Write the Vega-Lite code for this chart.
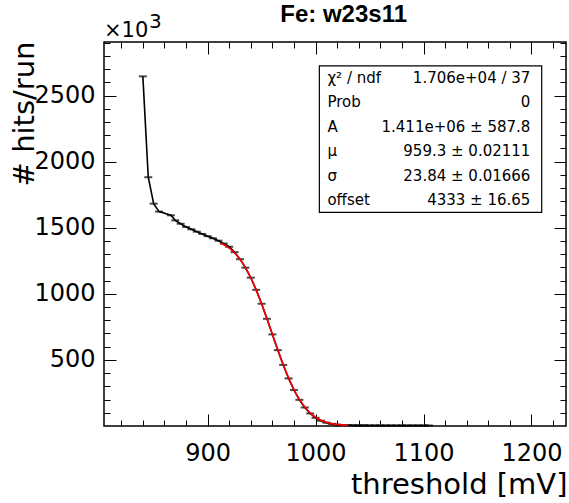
{
  "$schema": "https://vega.github.io/schema/vega-lite/v6.json",
  "width": 462,
  "height": 384,
  "autosize": {"type": "none"},
  "padding": {"left": 104, "top": 42, "right": 3, "bottom": 77},
  "background": "white",
  "config": {"view": {"stroke": "black", "strokeWidth": 1.5}, "font": "DejaVu Sans"},
  "resolve": {"axis": {"x": "independent", "y": "independent"}},
  "layer": [
    {
      "data": {"name": "measured", "values": [
        {"threshold": 840, "hits": 2645}, {"threshold": 845, "hits": 1882}, {"threshold": 850, "hits": 1682},
        {"threshold": 855, "hits": 1622}, {"threshold": 866, "hits": 1594}, {"threshold": 870, "hits": 1556},
        {"threshold": 875, "hits": 1530}, {"threshold": 880, "hits": 1506}, {"threshold": 885, "hits": 1488},
        {"threshold": 890, "hits": 1470}, {"threshold": 895, "hits": 1453}, {"threshold": 900, "hits": 1436},
        {"threshold": 905, "hits": 1420}, {"threshold": 910, "hits": 1402}, {"threshold": 915, "hits": 1380},
        {"threshold": 920, "hits": 1356}, {"threshold": 925, "hits": 1315}, {"threshold": 930, "hits": 1262},
        {"threshold": 935, "hits": 1198}, {"threshold": 940, "hits": 1122}, {"threshold": 945, "hits": 1030},
        {"threshold": 950, "hits": 925}, {"threshold": 955, "hits": 811}, {"threshold": 960, "hits": 693},
        {"threshold": 965, "hits": 574}, {"threshold": 970, "hits": 462}, {"threshold": 975, "hits": 360},
        {"threshold": 980, "hits": 272}, {"threshold": 985, "hits": 198}, {"threshold": 990, "hits": 140},
        {"threshold": 995, "hits": 95}, {"threshold": 1000, "hits": 62}, {"threshold": 1005, "hits": 40},
        {"threshold": 1010, "hits": 25}, {"threshold": 1015, "hits": 16}, {"threshold": 1020, "hits": 10},
        {"threshold": 1025, "hits": 7}, {"threshold": 1030, "hits": 5.5}, {"threshold": 1035, "hits": 5},
        {"threshold": 1040, "hits": 4.6}, {"threshold": 1045, "hits": 4.4}, {"threshold": 1050, "hits": 4.3},
        {"threshold": 1055, "hits": 4.2}, {"threshold": 1060, "hits": 4.2}, {"threshold": 1065, "hits": 4.1},
        {"threshold": 1070, "hits": 4.1}, {"threshold": 1075, "hits": 4}, {"threshold": 1080, "hits": 4},
        {"threshold": 1085, "hits": 4}, {"threshold": 1090, "hits": 4}, {"threshold": 1095, "hits": 4},
        {"threshold": 1100, "hits": 4}, {"threshold": 1105, "hits": 4}
      ]},
      "resolve": {"axis": {"x": "independent", "y": "independent"}},
      "layer": [
        {
          "mark": {"type": "line", "color": "black", "strokeWidth": 1.6},
          "encoding": {
            "x": {"field": "threshold", "type": "quantitative", "scale": {"domain": [804, 1232], "nice": false, "zero": false},
              "axis": {"orient": "bottom", "values": [900, 1000, 1100, 1200], "format": "d", "ticks": false, "domain": false, "grid": false,
                "labelFont": "DejaVu Sans", "labelFontSize": 24, "labelColor": "black", "labelPadding": 34, "labelBaseline": "alphabetic",
                "labelFlush": false, "labelOverlap": false,
                "title": "threshold [mV]", "titleFont": "DejaVu Sans", "titleFontSize": 29, "titleFontWeight": "normal", "titleColor": "black",
                "titleAnchor": "end", "titleAlign": "right", "titleBaseline": "alphabetic", "titleX": 463, "titleY": 67}},
            "y": {"field": "hits", "type": "quantitative", "scale": {"domain": [0, 2905], "nice": false, "zero": false},
              "axis": {"orient": "left", "values": [500, 1000, 1500, 2000, 2500], "format": "d", "ticks": false, "domain": false, "grid": false,
                "labelFont": "DejaVu Sans", "labelFontSize": 24, "labelColor": "black", "labelPadding": 9, "labelBaseline": "middle",
                "labelFlush": false, "labelOverlap": false,
                "title": "# hits/run", "titleFont": "DejaVu Sans", "titleFontSize": 29, "titleFontWeight": "normal", "titleColor": "black",
                "titleAngle": -90, "titleAnchor": "end", "titleAlign": "right", "titleBaseline": "alphabetic", "titleX": -71, "titleY": -1}}
          }
        },
        {
          "mark": {"type": "tick", "orient": "horizontal", "size": 8, "thickness": 2, "color": "black"},
          "encoding": {
            "x": {"field": "threshold", "type": "quantitative",
              "axis": {"orient": "bottom", "values": [820, 840, 860, 880, 900, 920, 940, 960, 980, 1000, 1020, 1040, 1060, 1080, 1100, 1120, 1140, 1160, 1180, 1200, 1220],
                "offset": -6, "tickSize": 6, "tickColor": "black", "tickWidth": 1, "labels": false, "domain": false, "grid": false, "title": null}},
            "y": {"field": "hits", "type": "quantitative",
              "axis": {"orient": "left", "values": [100, 200, 300, 400, 500, 600, 700, 800, 900, 1000, 1100, 1200, 1300, 1400, 1500, 1600, 1700, 1800, 1900, 2000, 2100, 2200, 2300, 2400, 2500, 2600, 2700, 2800, 2900],
                "offset": -6, "tickSize": 6, "tickColor": "black", "tickWidth": 1, "labels": false, "domain": false, "grid": false, "title": null}}
          }
        }
      ]
    },
    {
      "data": {"values": [
        {"threshold": 912, "hits": 1382}, {"threshold": 915, "hits": 1371}, {"threshold": 920, "hits": 1345},
        {"threshold": 925, "hits": 1309}, {"threshold": 930, "hits": 1261}, {"threshold": 935, "hits": 1198},
        {"threshold": 940, "hits": 1120}, {"threshold": 945, "hits": 1028}, {"threshold": 950, "hits": 924},
        {"threshold": 955, "hits": 811}, {"threshold": 960, "hits": 693}, {"threshold": 965, "hits": 576},
        {"threshold": 970, "hits": 465}, {"threshold": 975, "hits": 364}, {"threshold": 980, "hits": 276},
        {"threshold": 985, "hits": 203}, {"threshold": 990, "hits": 144}, {"threshold": 995, "hits": 99},
        {"threshold": 1000, "hits": 66}, {"threshold": 1005, "hits": 43}, {"threshold": 1010, "hits": 28},
        {"threshold": 1015, "hits": 18}, {"threshold": 1020, "hits": 12}, {"threshold": 1025, "hits": 8.4},
        {"threshold": 1030, "hits": 6.4}
      ]},
      "mark": {"type": "line", "color": "#ff0000", "strokeWidth": 1.6, "interpolate": "monotone"},
      "encoding": {
        "x": {"field": "threshold", "type": "quantitative",
          "axis": {"orient": "bottom", "values": [900, 1000, 1100, 1200], "offset": -12, "tickSize": 12, "tickColor": "black", "tickWidth": 1,
            "labels": false, "domain": false, "grid": false, "title": null}},
        "y": {"field": "hits", "type": "quantitative",
          "axis": {"orient": "left", "values": [500, 1000, 1500, 2000, 2500], "offset": -12, "tickSize": 12, "tickColor": "black", "tickWidth": 1,
            "labels": false, "domain": false, "grid": false, "title": null}}
      }
    },
    {
      "data": {"values": [{"x1": 1003.5, "x2": 1209.5, "y1": 1616, "y2": 2725}]},
      "mark": {"type": "rect", "fill": "white", "stroke": "black", "strokeWidth": 1.2},
      "encoding": {
        "x": {"field": "x1", "type": "quantitative",
          "axis": {"orient": "top", "values": [900, 1000, 1100, 1200], "offset": -12, "tickSize": 12, "tickColor": "black", "tickWidth": 1,
            "labels": false, "domain": false, "grid": false, "title": null}},
        "x2": {"field": "x2"},
        "y": {"field": "y1", "type": "quantitative",
          "axis": {"orient": "right", "values": [500, 1000, 1500, 2000, 2500], "offset": -12, "tickSize": 12, "tickColor": "black", "tickWidth": 1,
            "labels": false, "domain": false, "grid": false, "title": null}},
        "y2": {"field": "y2"}
      }
    },
    {
      "data": {"values": [
        {"x": 1011, "y": 2633, "label": "χ² / ndf"},
        {"x": 1011, "y": 2449, "label": "Prob"},
        {"x": 1011, "y": 2264, "label": "A"},
        {"x": 1011, "y": 2079, "label": "μ"},
        {"x": 1011, "y": 1894, "label": "σ"},
        {"x": 1011, "y": 1710, "label": "offset"}
      ]},
      "mark": {"type": "text", "align": "left", "baseline": "middle", "font": "DejaVu Sans", "fontSize": 15, "color": "black"},
      "encoding": {
        "x": {"field": "x", "type": "quantitative",
          "axis": {"orient": "top", "values": [820, 840, 860, 880, 900, 920, 940, 960, 980, 1000, 1020, 1040, 1060, 1080, 1100, 1120, 1140, 1160, 1180, 1200, 1220],
            "offset": -6, "tickSize": 6, "tickColor": "black", "tickWidth": 1, "labels": false, "domain": false, "grid": false, "title": null}},
        "y": {"field": "y", "type": "quantitative",
          "axis": {"orient": "right", "values": [100, 200, 300, 400, 500, 600, 700, 800, 900, 1000, 1100, 1200, 1300, 1400, 1500, 1600, 1700, 1800, 1900, 2000, 2100, 2200, 2300, 2400, 2500, 2600, 2700, 2800, 2900],
            "offset": -6, "tickSize": 6, "tickColor": "black", "tickWidth": 1, "labels": false, "domain": false, "grid": false, "title": null}},
        "text": {"field": "label"}
      }
    },
    {
      "data": {"values": [
        {"x": 1199, "y": 2633, "label": "1.706e+04 / 37"},
        {"x": 1199, "y": 2449, "label": "0"},
        {"x": 1199, "y": 2264, "label": "1.411e+06 ± 587.8"},
        {"x": 1199, "y": 2079, "label": "959.3 ± 0.02111"},
        {"x": 1199, "y": 1894, "label": "23.84 ± 0.01666"},
        {"x": 1199, "y": 1710, "label": "4333 ± 16.65"}
      ]},
      "mark": {"type": "text", "align": "right", "baseline": "middle", "font": "DejaVu Sans", "fontSize": 15, "color": "black"},
      "encoding": {
        "x": {"field": "x", "type": "quantitative", "axis": null},
        "y": {"field": "y", "type": "quantitative", "axis": null},
        "text": {"field": "label"}
      }
    },
    {
      "data": {"values": [{"x": 1026, "y": 3058, "label": "Fe: w23s11"}]},
      "mark": {"type": "text", "align": "center", "baseline": "alphabetic", "font": "Liberation Sans", "fontSize": 24, "fontWeight": "bold", "color": "black"},
      "encoding": {
        "x": {"field": "x", "type": "quantitative", "axis": null},
        "y": {"field": "y", "type": "quantitative", "axis": null},
        "text": {"field": "label"}
      }
    },
    {
      "data": {"values": [{"x": 804, "y": 2943, "label": "×10"}]},
      "mark": {"type": "text", "align": "left", "baseline": "alphabetic", "font": "DejaVu Sans", "fontSize": 21, "color": "black"},
      "encoding": {
        "x": {"field": "x", "type": "quantitative", "axis": null},
        "y": {"field": "y", "type": "quantitative", "axis": null},
        "text": {"field": "label"}
      }
    },
    {
      "data": {"values": [{"x": 845.8, "y": 3010, "label": "3"}]},
      "mark": {"type": "text", "align": "left", "baseline": "alphabetic", "font": "DejaVu Sans", "fontSize": 20, "color": "black"},
      "encoding": {
        "x": {"field": "x", "type": "quantitative", "axis": null},
        "y": {"field": "y", "type": "quantitative", "axis": null},
        "text": {"field": "label"}
      }
    }
  ]
}
